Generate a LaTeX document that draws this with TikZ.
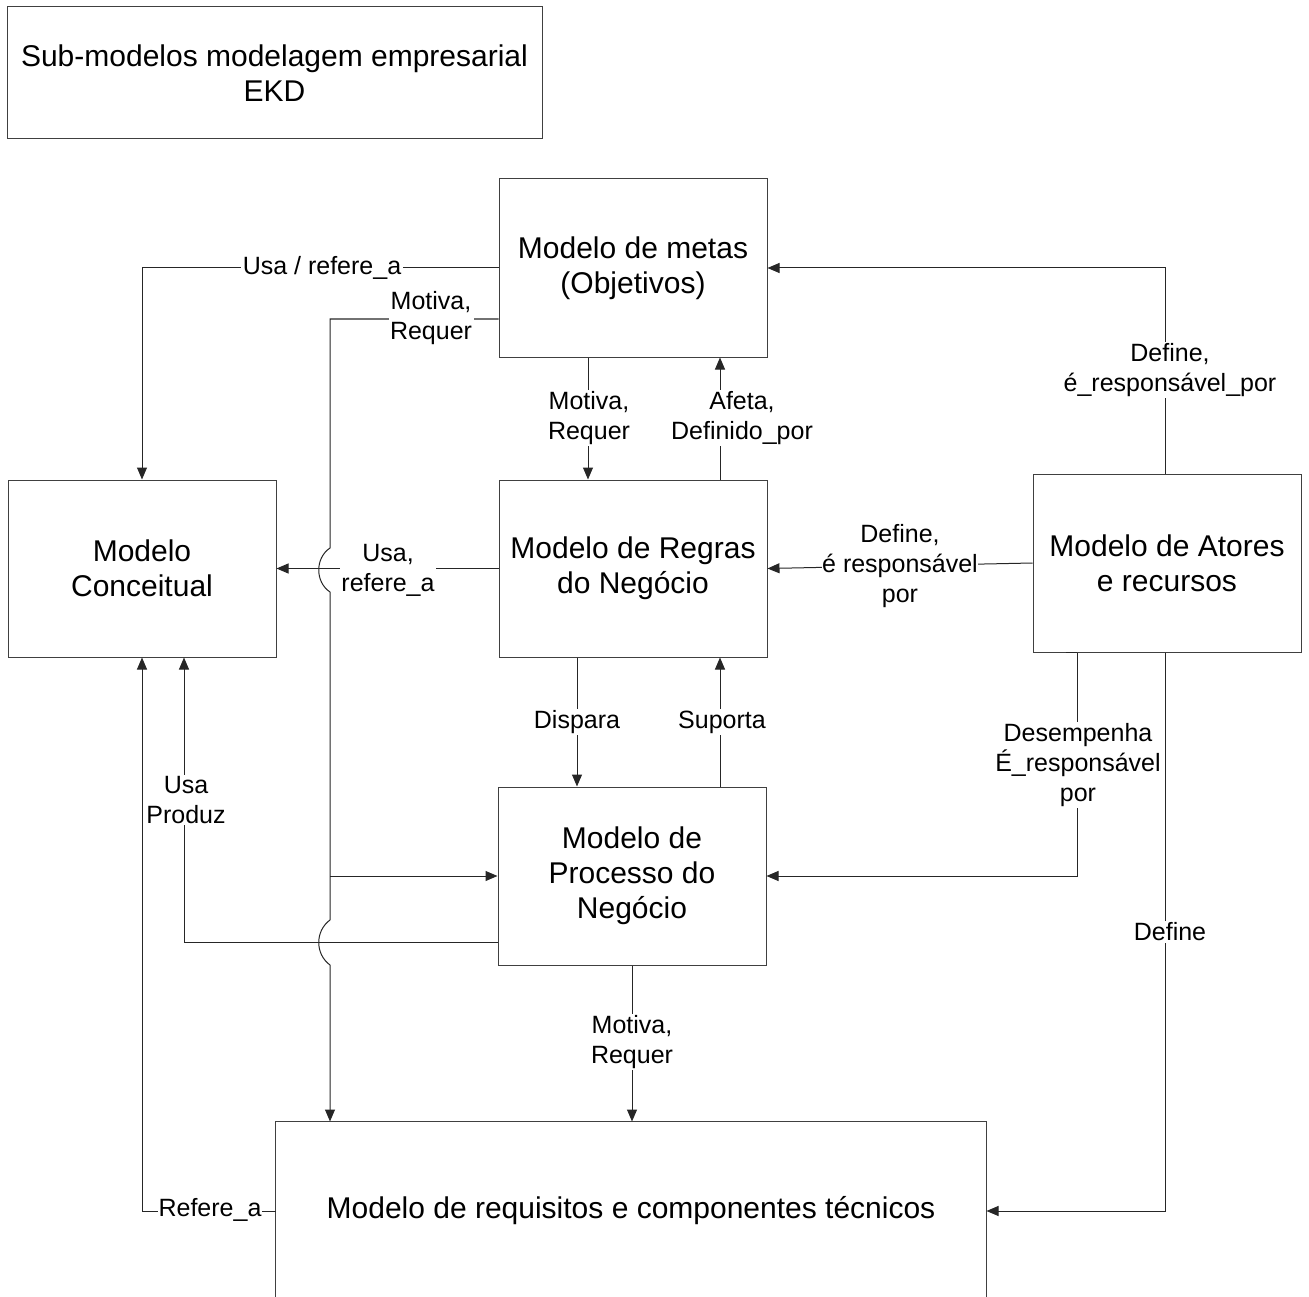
\documentclass[tikz,border=0pt]{standalone}
\usepackage{fontspec}
\setmainfont{Liberation Sans}
\usetikzlibrary{arrows.meta,calc}
\begin{document}
\begin{tikzpicture}[x=1pt,y=-1pt,
  model/.style={draw=black!75,line width=1pt,fill=white,align=center,
    minimum width=268pt,minimum height=178pt,inner sep=0pt,
    font=\fontsize{30}{35}\selectfont},
  lbl/.style={fill=white,align=center,inner sep=1.5pt,
    font=\fontsize{25}{30}\selectfont},
  link/.style={draw=black!85,line width=1pt},
  arr/.style={link,-{Triangle[length=12pt,width=10pt]}}]
\useasboundingbox (0,0) rectangle (1309,1297);

% title
\node[model,minimum width=535pt,minimum height=132pt] (title) at (274.5,73)
  {Sub-modelos modelagem empresarial\\EKD};

% sub-models
\node[model] (metas) at (633,268) {Modelo de metas\\(Objetivos)};
\node[model,minimum height=177pt] (rules) at (633,568.5) {Modelo de Regras\\do Negócio};
\node[model,minimum height=177pt] (concept) at (142,568.5) {Modelo\\Conceitual};
\node[model] (actors) at (1167,563) {Modelo de Atores\\e recursos};
\node[model] (proc) at (632,876) {Modelo de\\Processo do\\Negócio};
\node[model,draw=none,minimum width=710pt] (req) at (631,1211)
  {Modelo de requisitos e componentes técnicos};
\draw[draw=black!75,line width=1pt] (req.south west) -- (req.north west)
  -- (req.north east) -- (req.south east);

% connectors
\draw[arr] (metas.west) -| (concept.north);
\coordinate (busTop) at (330,319);
\coordinate (busJoin) at (busTop |- proc.west);
\draw[arr] ($(metas.west)+(0,51)$) -- (busTop) -- (330,548)
  .. controls (315,558) and (315,582) .. (330,592) -- (330,920)
  .. controls (315,931) and (315,954) .. (330,965) -- (busTop |- req.north);
\draw[arr] (busJoin) -- (proc.west);
\draw[arr] ($(metas.south)+(-45,0)$) -- ($(rules.north)+(-45,0)$);
\draw[arr] ($(rules.north)+(87,0)$) -- ($(metas.south)+(87,0)$);
\draw[arr] (rules.west) -- (concept.east);
\draw[arr] (actors.west) -- (rules.east);
\draw[arr] ($(actors.north)+(-2,0)$) |- (metas.east);
\draw[arr] ($(rules.south)+(-56,0)$) -- ($(proc.north)+(-55,0)$);
\draw[arr] ($(proc.north)+(88,0)$) -- ($(rules.south)+(87,0)$);
\draw[arr] ($(actors.south)+(-90,0)$) |- (proc.east);
\draw[link] ($(actors.south)+(-101,0)$) -- ($(actors.south)+(-90,0)$);
\draw[arr] ($(actors.south)+(-2,0)$) |- (req.east);
\draw[arr] ($(proc.west)+(0,66)$) -| ($(concept.south)+(42,0)$);
\draw[arr] (req.west) -| (concept.south);
\draw[arr] (proc.south) -- (proc.south |- req.north);

% connector labels
\node[lbl] (l1) at (322,268) {Usa / refere\_a};
\node[lbl] (l2) at (431,318) {Motiva,\\Requer};
\node[lbl] (l3) at (589,418) {Motiva,\\Requer};
\node[lbl] (l4) at (742,418) {Afeta,\\Definido\_por};
\node[lbl] (l5) at (388,570) {Usa,\\refere\_a};
\node[lbl,inner sep=0.5pt] (l6) at (900,566) {Define,\\é responsável\\por};
\node[lbl] (l7) at (1170,370) {Define,\\é\_responsável\_por};
\node[lbl] (l8) at (577,722) {Dispara};
\node[lbl] (l9) at (722,722) {Suporta};
\node[lbl] (l10) at (1078,765) {Desempenha\\É\_responsável\\por};
\node[lbl] (l11) at (186,800) {Usa\\Produz};
\node[lbl] (l12) at (1170,932) {Define};
\node[lbl,inner sep=0.5pt] (l13) at (210,1210) {Refere\_a};
\node[lbl] (l14) at (632,1042) {Motiva,\\Requer};
\end{tikzpicture}
\end{document}
